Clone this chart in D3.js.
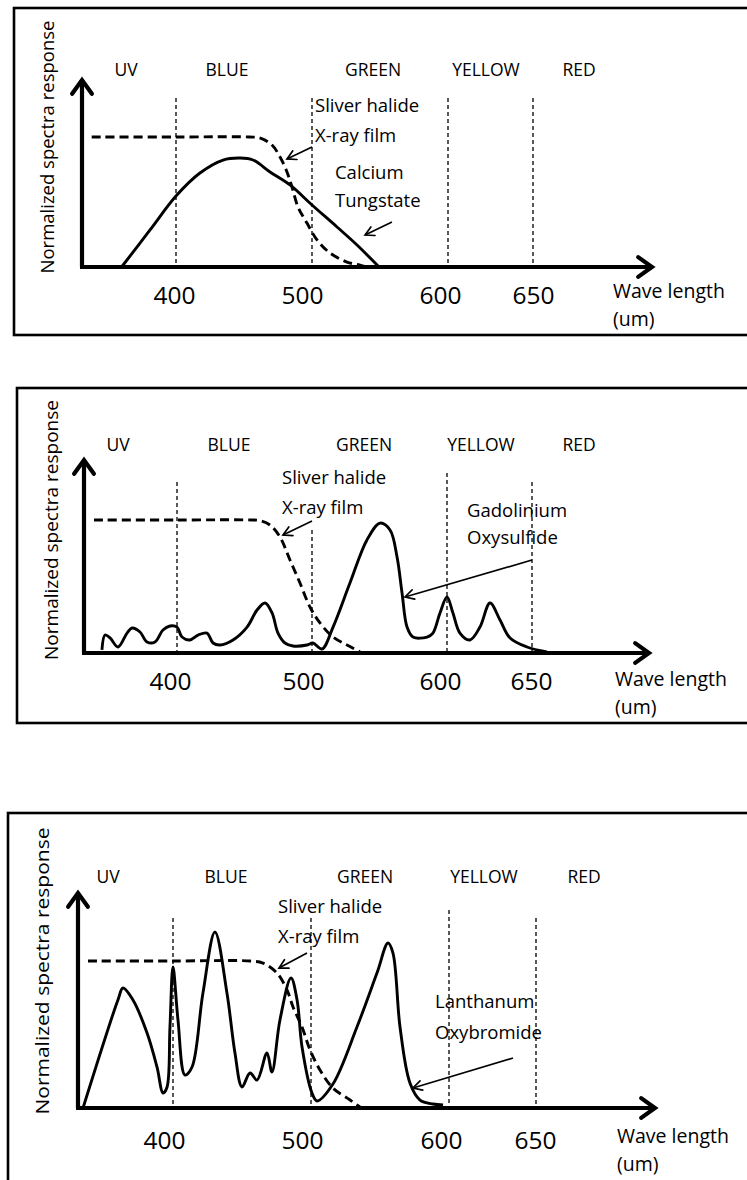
<!DOCTYPE html>
<html>
<head>
<meta charset="utf-8">
<script src="https://cdn.jsdelivr.net/npm/d3@7"></script>
<style>
  html, body { margin: 0; padding: 0; background: #fff; }
  svg { display: block; font-family: "Open Sans", Lato, sans-serif; }
</style>
</head>
<body>
<script>
// Spectral bands and wavelength ticks (nm)
const bandNames = ["UV", "BLUE", "GREEN", "YELLOW", "RED"];
const bandEdges = [400, 500, 600, 650];
const tickValues = [400, 500, 600, 650];

// Silver halide X-ray film sensitivity (normalised to its plateau = 1)
const filmWl1 = [338, 400, 454, 462, 470.6, 476.5, 481.6, 485.3, 489.7, 496.3, 503.7, 513.2, 525.7, 535.3, 540];
const filmResp1 = [1, 1, 1, 0.992, 0.938, 0.846, 0.731, 0.615, 0.462, 0.338, 0.208, 0.108, 0.038, 0.015, 0];

const filmWl2 = [338.5, 400, 455, 461.5, 468.9, 476.3, 483.7, 491.1, 498.5, 505.9, 515.6, 525.9, 535.6];
const filmResp2 = [1, 1, 1, 0.995, 0.962, 0.872, 0.699, 0.526, 0.346, 0.226, 0.120, 0.060, 0.008];

const filmWl3 = [338.4, 400, 455.8, 465.2, 475.4, 482.6, 487, 493.5, 499.3, 506.5, 515.9, 528.3, 535.5];
const filmResp3 = [1, 1, 1, 0.986, 0.918, 0.803, 0.687, 0.551, 0.395, 0.259, 0.136, 0.054, 0.007];

// Calcium tungstate emission
const calciumTungstateWl = [360, 380.9, 400, 417.6, 434.6, 447.1, 456.6, 469.1, 483.8, 500, 518.4, 533.1, 549.3];
const calciumTungstateResp = [0, 0.285, 0.546, 0.723, 0.823, 0.838, 0.823, 0.731, 0.631, 0.477, 0.308, 0.169, 0];

// Gadolinium oxysulfide emission
const gadoliniumWl = [344.4, 346.7, 350.4, 356.3, 363.0, 366.7, 372.6, 377.8, 383.7, 389.6, 394.8, 400, 403.7, 409.6,
  415.6, 422.2, 426.7, 431.9, 441.5, 451.9, 459.3, 465.2, 470.4, 474.8, 480.0, 485.9, 496.3, 500.7, 507.4, 515.6,
  528.1, 540.7, 550.4, 557.8, 563.0, 566.7, 570.4, 574.8, 585.2, 589.6, 594.8, 600, 603.5, 607.6, 613.5, 619.4,
  625.3, 631.2, 637.1, 647.1, 658.8];
const gadoliniumResp = [0.023, 0.135, 0.113, 0.045, 0.150, 0.188, 0.158, 0.083, 0.083, 0.173, 0.203, 0.195, 0.120, 0.098,
  0.135, 0.150, 0.075, 0.060, 0.098, 0.195, 0.323, 0.376, 0.301, 0.150, 0.075, 0.053, 0.060, 0.075, 0.030, 0.195,
  0.526, 0.850, 0.977, 0.925, 0.722, 0.451, 0.195, 0.120, 0.120, 0.150, 0.301, 0.421, 0.301, 0.150, 0.098, 0.195,
  0.376, 0.248, 0.113, 0.045, 0.008];

// Lanthanum oxybromide emission
const lanthanumWl = [334.8, 360.1, 363.8, 371.0, 381.2, 388.4, 392.8, 395.7, 397.8, 400, 403.6, 408.7, 413.8, 421.7,
  430.4, 439.1, 444.9, 450.0, 455.8, 460.9, 468.1, 471.7, 477.5, 485.5, 489.9, 493.5, 500.7, 504.3, 515.9, 533.3,
  547.8, 555.8, 559.4, 564.5, 571.7, 579.0, 588.4, 595.7];
const lanthanumResp = [0, 0.735, 0.816, 0.735, 0.510, 0.279, 0.102, 0.143, 0.551, 0.959, 0.599, 0.224, 0.279, 0.782,
  1.197, 0.782, 0.374, 0.143, 0.238, 0.190, 0.374, 0.245, 0.599, 0.884, 0.735, 0.415, 0.102, 0.048, 0.163, 0.551,
  0.918, 1.122, 1.054, 0.551, 0.170, 0.054, 0.027, 0.020];

// Annotation labels and pointer arrows, in (wavelength, response) units
const notes1 = [
  { lines: ["Sliver halide", "X-ray film"], wl: 502.2, resp: [1.238, 1.008], from: [500, 0.923], to: [481.6, 0.831] },
  { lines: ["Calcium", "Tungstate"], wl: 516.9, resp: [0.723, 0.508], from: [558.8, 0.346], to: [539, 0.246] }
];
const notes2 = [
  { lines: ["Sliver halide", "X-ray film"], wl: 477.8, resp: [1.316, 1.090], from: [500, 0.992], to: [478.5, 0.887] },
  { lines: ["Gadolinium", "Oxysulfide"], wl: 611.8, resp: [1.068, 0.865], from: [650, 0.699], to: [568.9, 0.421] }
];
const notes3 = [
  { lines: ["Sliver halide", "X-ray film"], wl: 476.1, resp: [1.367, 1.163], from: [497.1, 1.054], to: [476.8, 0.952] },
  { lines: ["Lanthanum", "Oxybromide"], wl: 589.9, resp: [0.721, 0.510], from: [636.8, 0.340], to: [573.9, 0.136] }
];

// Panel layout
const panels = [
  {
    film: [filmWl1, filmResp1], phosphor: [calciumTungstateWl, calciumTungstateResp], notes: notes1,
    box: [14, 8, 335], yAxisX: 82, yAxisTop: 80, axisY: 267, plateauY: 137, xAxisEnd: 652,
    edgeX: [176, 312, 448, 533], dashTop: [98, 98, 98, 98],
    bandY: 70, bandX: [126, 227, 373, 486, 579],
    tickY: 295, tickDx: [-2, -10, -8, 0],
    waveX: 613, waveY: [292, 320],
    yLabelX: 48, yLabelY: 147, yLabelLen: 253
  },
  {
    film: [filmWl2, filmResp2], phosphor: [gadoliniumWl, gadoliniumResp], notes: notes2,
    box: [17, 388, 723], yAxisX: 84, yAxisTop: 460, axisY: 653, plateauY: 520, xAxisEnd: 649,
    edgeX: [177, 312, 447, 532], dashTop: [482, 530, 473, 482],
    bandY: 445, bandX: [118, 229, 364, 481, 579],
    tickY: 681, tickDx: [-7, -9, -7, -1],
    waveX: 615, waveY: [680, 708],
    yLabelX: 52, yLabelY: 530, yLabelLen: 260
  },
  {
    film: [filmWl3, filmResp3], phosphor: [lanthanumWl, lanthanumResp], notes: notes3,
    box: [8, 813, 1300], yAxisX: 78, yAxisTop: 893, axisY: 1108, plateauY: 961, xAxisEnd: 655,
    edgeX: [173, 311, 449, 536], dashTop: [918, 918, 910, 918],
    bandY: 877, bandX: [108, 226, 365, 484, 584],
    tickY: 1140, tickDx: [-9, -9, -8, -1],
    waveX: 617, waveY: [1137, 1165],
    yLabelX: 43, yLabelY: 971, yLabelLen: 287
  }
];

const svg = d3.select("body").append("svg")
  .attr("width", 747).attr("height", 1180);

// Open chevron arrowhead at (x2, y2) pointing away from (x1, y1)
function chevron(g, x1, y1, x2, y2, len, half, width) {
  const a = Math.atan2(y2 - y1, x2 - x1);
  const p1 = [x2 - len * Math.cos(a - half), y2 - len * Math.sin(a - half)];
  const p2 = [x2 - len * Math.cos(a + half), y2 - len * Math.sin(a + half)];
  g.append("path")
    .attr("d", `M${p1[0]},${p1[1]}L${x2},${y2}L${p2[0]},${p2[1]}`)
    .attr("fill", "none").attr("stroke", "#000")
    .attr("stroke-width", width).attr("stroke-linecap", "round").attr("stroke-linejoin", "miter");
}

panels.forEach(p => {
  const g = svg.append("g");
  const x = d3.scaleLinear().domain(bandEdges).range(p.edgeX);
  const y = d3.scaleLinear().domain([0, 1]).range([p.axisY, p.plateauY]);

  // frame (right side runs past the page edge)
  g.append("rect")
    .attr("x", p.box[0]).attr("y", p.box[1])
    .attr("width", 800).attr("height", p.box[2] - p.box[1])
    .attr("fill", "none").attr("stroke", "#000").attr("stroke-width", 2.6);

  // band boundaries
  g.selectAll(".edge").data(bandEdges).join("line")
    .attr("x1", d => x(d)).attr("x2", d => x(d))
    .attr("y1", (d, i) => p.dashTop[i]).attr("y2", p.axisY)
    .attr("stroke", "#000").attr("stroke-width", 1.3)
    .attr("stroke-dasharray", "4,3");

  // band names
  g.selectAll(".band").data(bandNames).join("text")
    .attr("x", (d, i) => p.bandX[i]).attr("y", p.bandY)
    .attr("dy", "0.36em").attr("text-anchor", "middle")
    .attr("font-size", 17.5).attr("fill", "#000")
    .text(d => d);

  // response curves
  const line = d3.line()
    .x(d => x(d[0])).y(d => y(d[1]))
    .curve(d3.curveCatmullRom.alpha(0.5));

  const filmPts = d3.zip(p.film[0], p.film[1]);
  g.append("path").attr("d", line(filmPts))
    .attr("fill", "none").attr("stroke", "#000").attr("stroke-width", 2.9)
    .attr("stroke-dasharray", "9,5");

  const phPts = d3.zip(p.phosphor[0], p.phosphor[1]);
  g.append("path").attr("d", line(phPts))
    .attr("fill", "none").attr("stroke", "#000").attr("stroke-width", 2.9)
    .attr("stroke-linejoin", "round");

  // axes with arrowheads
  g.append("line")
    .attr("x1", p.yAxisX).attr("x2", p.yAxisX)
    .attr("y1", p.axisY).attr("y2", p.yAxisTop + 1)
    .attr("stroke", "#000").attr("stroke-width", 4.2);
  chevron(g, p.yAxisX, p.axisY, p.yAxisX, p.yAxisTop, 17, 0.62, 4.2);

  g.append("line")
    .attr("x1", p.yAxisX - 2).attr("x2", p.xAxisEnd - 1)
    .attr("y1", p.axisY).attr("y2", p.axisY)
    .attr("stroke", "#000").attr("stroke-width", 4.2);
  chevron(g, p.yAxisX, p.axisY, p.xAxisEnd, p.axisY, 17, 0.62, 4.2);

  // tick labels
  const axis = g.append("g")
    .attr("transform", `translate(0,${p.tickY})`)
    .call(d3.axisBottom(x).tickValues(tickValues).tickSize(0).tickPadding(0));
  axis.select(".domain").remove();
  axis.selectAll(".tick text")
    .attr("y", 0).attr("dy", "0.36em")
    .attr("dx", (d, i) => p.tickDx[i])
    .attr("font-family", "'Open Sans', Lato, sans-serif")
    .attr("font-size", 24.5).attr("fill", "#000");

  // axis titles
  g.append("text")
    .attr("x", p.waveX).attr("y", p.waveY[0]).attr("dy", "0.33em")
    .attr("font-size", 19.5).attr("fill", "#000").text("Wave length");
  g.append("text")
    .attr("x", p.waveX).attr("y", p.waveY[1]).attr("dy", "0.33em")
    .attr("font-size", 19.5).attr("fill", "#000").text("(um)");

  g.append("text")
    .attr("transform", `translate(${p.yLabelX},${p.yLabelY}) rotate(-90)`)
    .attr("text-anchor", "middle").attr("dy", "0.33em")
    .attr("font-size", 18).attr("fill", "#000")
    .attr("textLength", p.yLabelLen).attr("lengthAdjust", "spacingAndGlyphs")
    .text("Normalized spectra response");

  // annotations
  p.notes.forEach(n => {
    n.lines.forEach((t, i) => {
      g.append("text")
        .attr("x", x(n.wl)).attr("y", y(n.resp[i])).attr("dy", "0.33em")
        .attr("font-size", 18.5).attr("fill", "#000").text(t);
    });
    const [fx, fy] = [x(n.from[0]), y(n.from[1])];
    const [tx, ty] = [x(n.to[0]), y(n.to[1])];
    g.append("line")
      .attr("x1", fx).attr("y1", fy).attr("x2", tx).attr("y2", ty)
      .attr("stroke", "#000").attr("stroke-width", 1.7);
    chevron(g, fx, fy, tx, ty, 10, 0.5, 1.7);
  });
});
</script>
</body>
</html>
